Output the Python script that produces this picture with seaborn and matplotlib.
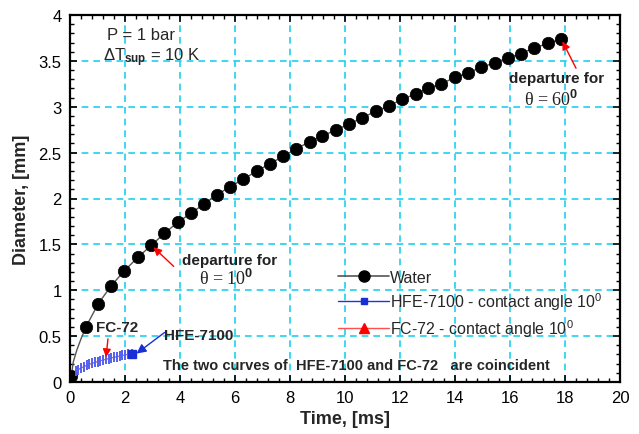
import matplotlib
matplotlib.use("Agg")
import matplotlib.pyplot as plt
import seaborn as sns
import numpy as np
import pandas as pd
from matplotlib.lines import Line2D
from matplotlib.ticker import MultipleLocator, FormatStrFormatter

# ---- data ----
water_t = [0.05, 0.58, 1.02, 1.50, 1.97, 2.47, 2.96, 3.43, 3.92, 4.40, 4.87, 5.34, 5.83,
           6.30, 6.80, 7.28, 7.75, 8.22, 8.72, 9.18, 9.68, 10.16, 10.62, 11.12, 11.60,
           12.07, 12.57, 13.02, 13.50, 14.00, 14.48, 14.96, 15.44, 15.91, 16.39, 16.88,
           17.37, 17.86]
water_d = [0.07, 0.60, 0.85, 1.05, 1.21, 1.36, 1.49, 1.62, 1.74, 1.84, 1.94, 2.04, 2.13,
           2.21, 2.30, 2.38, 2.46, 2.54, 2.62, 2.68, 2.75, 2.81, 2.88, 2.95, 3.01,
           3.08, 3.14, 3.20, 3.25, 3.32, 3.37, 3.43, 3.48, 3.53, 3.58, 3.64,
           3.69, 3.74]
# extra points of the early water growth curve (line only)
water_start_t = [0.12, 0.25, 0.40]
water_start_d = [0.22, 0.35, 0.47]

hfe_t = [0.20, 0.30, 0.40, 0.50, 0.60, 0.70, 0.80, 0.90, 1.00, 1.10, 1.20, 1.30, 1.40,
         1.50, 1.60, 1.70, 1.80, 1.90, 2.00, 2.10, 2.25]
hfe_d = [0.115, 0.135, 0.153, 0.167, 0.180, 0.192, 0.203, 0.213, 0.222, 0.231, 0.239,
         0.247, 0.255, 0.262, 0.269, 0.276, 0.282, 0.289, 0.295, 0.301, 0.310]
fc72_t = [0.20, 0.30, 0.40, 0.50, 0.60, 0.70, 0.80, 0.90, 1.00, 1.10, 1.20, 1.30, 1.40,
          1.50, 1.60, 1.70, 1.80, 1.90, 2.00, 2.10, 2.25]
fc72_d = [0.115, 0.135, 0.153, 0.167, 0.180, 0.192, 0.203, 0.213, 0.222, 0.231, 0.239,
          0.247, 0.255, 0.262, 0.269, 0.276, 0.282, 0.289, 0.295, 0.301, 0.310]

legend_labels = ["Water", "HFE-7100 - contact angle 10$^0$", "FC-72 - contact angle 10$^0$"]

# ---- style ----
sns.set_style("ticks")
plt.rcParams["font.family"] = ["Liberation Sans", "DejaVu Sans"]
plt.rcParams["mathtext.fontset"] = "custom"
plt.rcParams["mathtext.rm"] = "Liberation Sans"
plt.rcParams["mathtext.it"] = "Liberation Sans:italic"
plt.rcParams["mathtext.bf"] = "Liberation Sans:bold"

fig = plt.figure(figsize=(6.39, 4.35), dpi=100)
ax = fig.add_axes([70 / 639, 1 - 383 / 435, 550 / 639, 367 / 435])

grid_col = "#1fd0ee"

# water curve
line_df = pd.DataFrame({"t": water_start_t + water_t, "d": water_start_d + water_d})
sns.lineplot(data=line_df, x="t", y="d", ax=ax, color="#555555", lw=1.0,
             estimator=None, sort=True, zorder=3)
dot_df = pd.DataFrame({"t": water_t, "d": water_d})
sns.scatterplot(data=dot_df, x="t", y="d", ax=ax, color="black", s=80,
                edgecolor="black", linewidth=0.5, zorder=4)

# FC-72 (coincident, underneath)
fc_df = pd.DataFrame({"t": fc72_t, "d": fc72_d})
sns.lineplot(data=fc_df, x="t", y="d", ax=ax, color="#ff7070", lw=0.8,
             estimator=None, zorder=3)
# HFE-7100
hfe_df = pd.DataFrame({"t": hfe_t, "d": hfe_d})
sns.lineplot(data=hfe_df, x="t", y="d", ax=ax, color="#6470f0", lw=0.6,
             marker="|", markersize=7, markeredgewidth=1.4, markeredgecolor="#5560ee",
             estimator=None, zorder=5)
ax.plot(hfe_t[-1], hfe_d[-1], marker="s", color="#1a2ed6", markersize=6, zorder=6)

# ---- axes ----
ax.set_xlim(0, 20)
ax.set_ylim(0, 4)
ax.xaxis.set_major_locator(MultipleLocator(2))
ax.xaxis.set_minor_locator(MultipleLocator(0.4))
ax.yaxis.set_major_locator(MultipleLocator(0.5))
ax.yaxis.set_minor_locator(MultipleLocator(0.1))
ax.yaxis.set_major_formatter(FormatStrFormatter("%g"))
ax.xaxis.set_major_formatter(FormatStrFormatter("%g"))
ax.tick_params(which="both", direction="in", top=True, right=True, colors="black",
               labelsize=12)
ax.tick_params(which="major", length=5, width=1.2, pad=6)
ax.tick_params(which="minor", length=3, width=1.0)
for s in ax.spines.values():
    s.set_linewidth(1.6)
    s.set_color("black")
ax.grid(True, which="major", color=grid_col, ls=(0, (4, 3)), lw=1.2, zorder=0)
ax.set_axisbelow(True)
ax.set_xlabel("Time, [ms]", fontsize=13, fontweight="bold")
ax.set_ylabel("Diameter, [mm]", fontsize=13, fontweight="bold", labelpad=6)
ax.xaxis.set_label_coords(0.5, -0.075)

# ---- legend ----
handles = [
    Line2D([], [], color="#555555", lw=1.2, marker="o", markersize=8, markerfacecolor="black",
           markeredgecolor="black"),
    Line2D([], [], color="#2233dd", lw=1.0, marker="s", markersize=5, markerfacecolor="#1a2ed6",
           markeredgecolor="#1a2ed6"),
    Line2D([], [], color="#ff5050", lw=1.0, marker="^", markersize=7, markerfacecolor="red",
           markeredgecolor="red"),
]
ax.legend(handles, legend_labels, loc="upper left", frameon=False,
          bbox_to_anchor=(338 / 639, 1 - 271 / 435), bbox_transform=fig.transFigure,
          fontsize=11.5, handlelength=3.2, handletextpad=0.05, labelspacing=0.32,
          borderpad=0, borderaxespad=0)

# ---- annotations ----
ax.text(1.34, 3.79, "P = 1 bar", fontsize=12, va="center", ha="left")
ax.text(1.2, 3.55, r"$\Delta$T$_{\mathbf{sup}}$ = 10 K", fontsize=12, va="center", ha="left")

arrow = dict(arrowstyle="-|>", color="red", lw=1.0, mutation_scale=12, shrinkA=0, shrinkB=2)
ax.annotate("", xy=(water_t[-1], water_d[-1]), xytext=(18.4, 3.42), arrowprops=arrow, zorder=7)
ax.text(17.7, 3.31, "departure for", fontsize=11, fontweight="bold", ha="center", va="center",
        color="#222222")
ax.text(17.5, 3.08, r"θ = 60$^{\mathbf{0}}$", fontsize=13, ha="center", va="center",
        family=["Liberation Serif", "DejaVu Serif"], color="#222222")

ax.annotate("", xy=(water_t[6], water_d[6]), xytext=(3.77, 1.26), arrowprops=arrow, zorder=7)
ax.text(5.8, 1.33, "departure for", fontsize=11, fontweight="bold", ha="center", va="center",
        color="#222222")
ax.text(5.7, 1.13, r"θ = 10$^{\mathbf{0}}$", fontsize=13, ha="center", va="center",
        family=["Liberation Serif", "DejaVu Serif"], color="#222222")

ax.text(1.73, 0.60, "FC-72", fontsize=11, fontweight="bold", ha="center", va="center")
ax.annotate("", xy=(1.30, 0.24), xytext=(1.38, 0.47), arrowprops=arrow, zorder=7)

ax.text(4.68, 0.51, "HFE-7100", fontsize=11, fontweight="bold", ha="center", va="center")
arrow_b = dict(arrowstyle="-|>", color="#1a2ed6", lw=1.0, mutation_scale=14, shrinkA=0, shrinkB=0)
ax.annotate("", xy=(2.42, 0.31), xytext=(3.44, 0.54), arrowprops=arrow_b, zorder=7)

ax.text(3.37, 0.19, "The two curves of  HFE-7100 and FC-72   are coincident", fontsize=10.5,
        fontweight="bold", ha="left", va="center")

fig.savefig("out.png", dpi=100)
